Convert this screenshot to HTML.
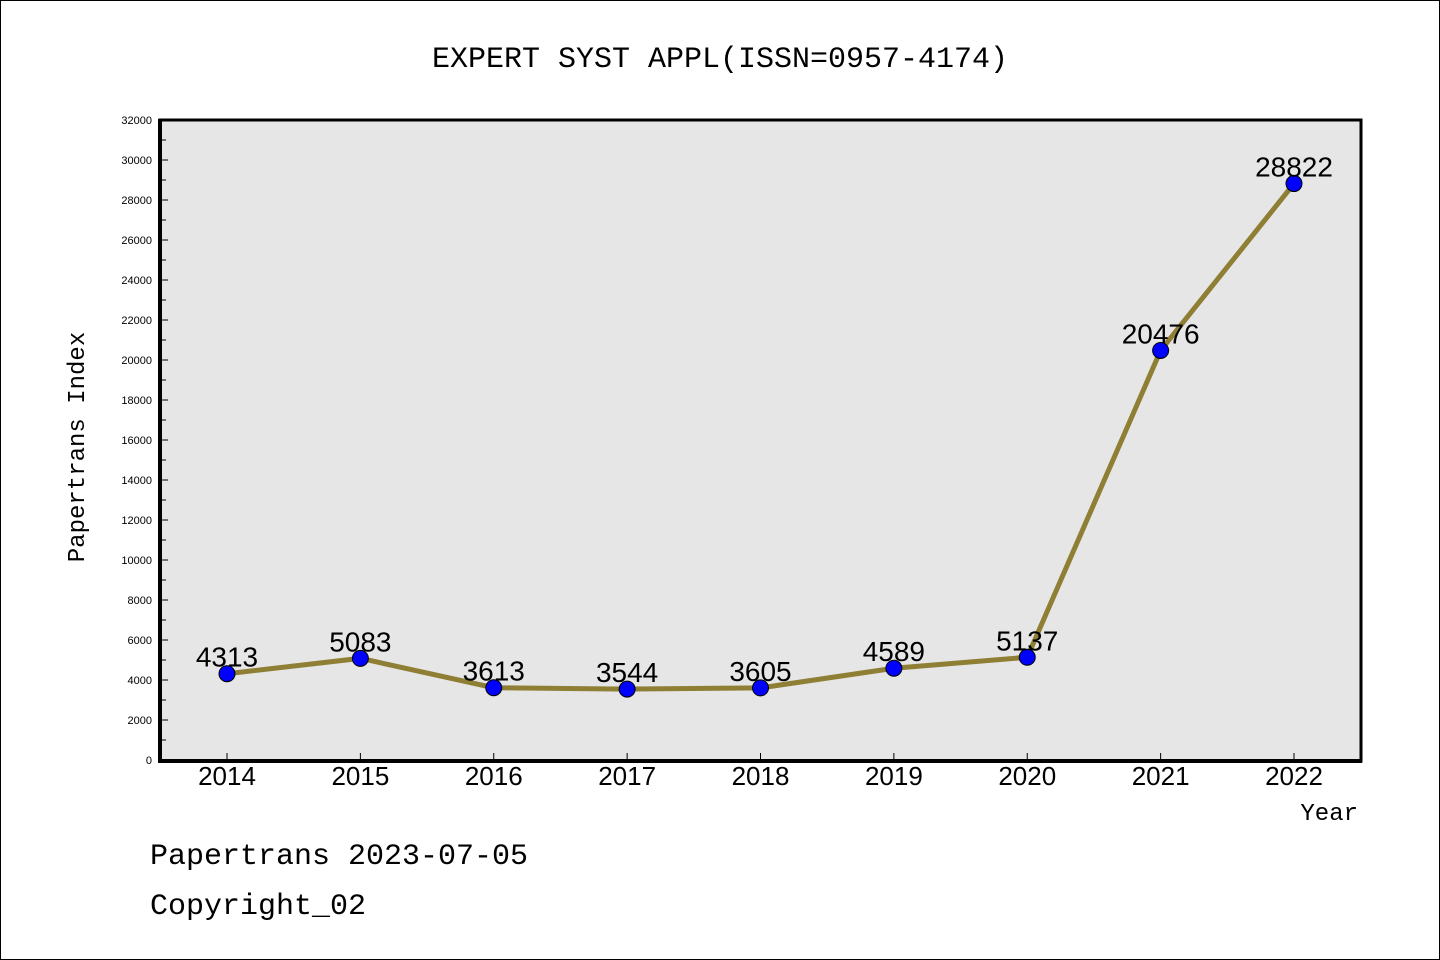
<!DOCTYPE html>
<html><head><meta charset="utf-8"><style>
body{margin:0;background:#fff}
svg{display:block;font-family:"Liberation Mono","Noto Sans CJK SC",monospace}
</style></head><body>
<svg width="1440" height="960">
<rect x="0.5" y="0.5" width="1439" height="959" fill="#fff" stroke="#000"/>
<text x="720" y="67" text-anchor="middle" font-size="30">EXPERT SYST APPL(ISSN=0957-4174)</text>
<rect x="160" y="120" width="1201" height="641" fill="#e6e6e6" stroke="#000" stroke-width="3"/>
<line x1="160" y1="119" x2="160" y2="762" stroke="#000" stroke-width="4"/>
<line x1="158" y1="761" x2="1362" y2="761" stroke="#000" stroke-width="4"/>
<g id="yaxis"></g>
<g id="xaxis"></g>
<g id="series"></g>
<text transform="translate(84,447) rotate(-90)" text-anchor="middle" font-size="24">Papertrans Index</text>
<text x="1358" y="820" text-anchor="end" font-size="24">Year</text>
<text x="150" y="864" font-size="30">Papertrans 2023-07-05</text>
<text x="150" y="914" font-size="30">Copyright_02</text>
</svg>
<script>
const years=[2014,2015,2016,2017,2018,2019,2020,2021,2022];
const values=[4313,5083,3613,3544,3605,4589,5137,20476,28822];
const yTicks=[0,2000,4000,6000,8000,10000,12000,14000,16000,18000,20000,22000,24000,26000,28000,30000,32000];
const NS="http://www.w3.org/2000/svg";
function y(v){return 760-v/32000*640;}
function x(i){return 227+i*(1294-227)/(years.length-1);}
function mk(t,a,p){const e=document.createElementNS(NS,t);for(const k in a)e.setAttribute(k,a[k]);p.appendChild(e);return e;}
const ya=document.getElementById('yaxis'),xa=document.getElementById('xaxis'),se=document.getElementById('series');
yTicks.forEach((v,i)=>{
 const l=mk('line',{x1:160,x2:168,y1:y(v),y2:y(v),stroke:'#000','stroke-width':1},ya);
 
 
 const m=mk('line',{x1:160,x2:166,y1:y(v+1000),y2:y(v+1000),stroke:'#000','stroke-width':1},ya);
 if(i===yTicks.length-1)m.remove();
 const t=mk('text',{x:152,y:y(v)+4,'text-anchor':'end','font-size':11,'font-family':'Liberation Sans, sans-serif'},ya);
 t.textContent=v;
 
 
});
years.forEach((yr,i)=>{
 const l=mk('line',{x1:x(i),x2:x(i),y1:753,y2:761,stroke:'#000'},xa);
 
 
 const t=mk('text',{x:x(i),y:785,'text-anchor':'middle','font-size':26,'font-family':'Liberation Sans, sans-serif'},xa);
 t.textContent=yr;
 
 
});
const pl=mk('polyline',{points:values.map((v,i)=>x(i)+','+y(v)).join(' '),fill:'none',stroke:'#8f7f35','stroke-width':5},se);


values.forEach((v,i)=>{
 const c=mk('circle',{cx:x(i),cy:y(v),r:8,fill:'#0000ff',stroke:'#000'},se);
 
 
 const t=mk('text',{x:x(i),y:y(v)-7,'text-anchor':'middle','font-size':28,'font-family':'Liberation Sans, sans-serif'},se);
 t.textContent=v;
 
 
});
</script>
</body></html>
